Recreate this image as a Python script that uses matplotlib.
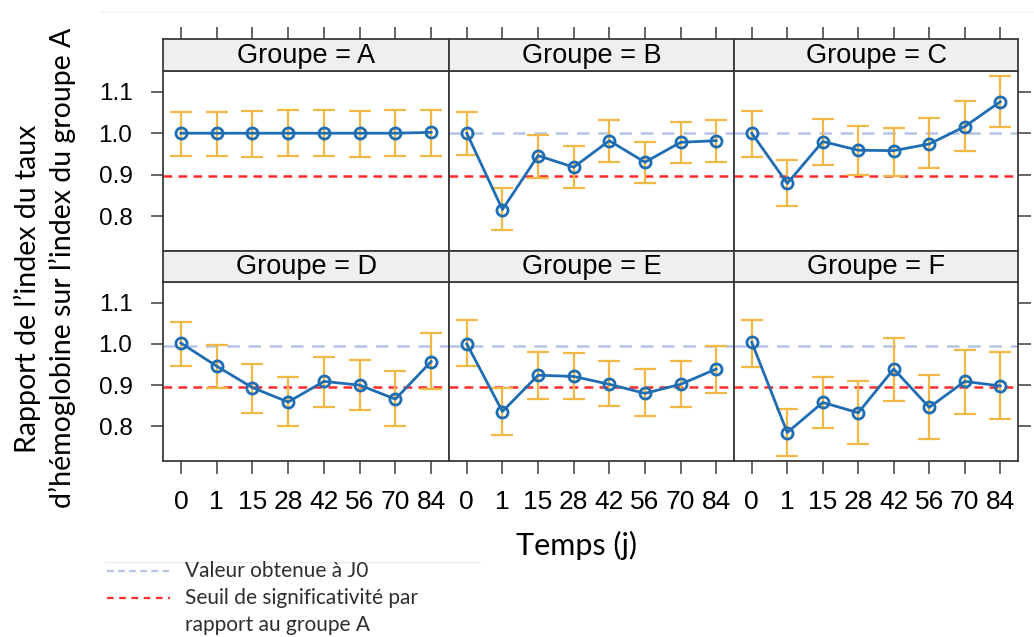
import matplotlib
matplotlib.use("Agg")
import matplotlib.pyplot as plt
from matplotlib.lines import Line2D

# ---------------- data ----------------
times = ["0", "1", "15", "28", "42", "56", "70", "84"]
groups = ["A", "B", "C", "D", "E", "F"]

mean_A = [1.000, 1.000, 1.000, 1.000, 1.000, 1.000, 1.000, 1.002]
mean_B = [1.000, 0.816, 0.946, 0.918, 0.982, 0.930, 0.978, 0.982]
mean_C = [1.000, 0.879, 0.980, 0.959, 0.958, 0.974, 1.016, 1.076]
mean_D = [1.002, 0.946, 0.894, 0.859, 0.909, 0.900, 0.866, 0.957]
mean_E = [1.000, 0.836, 0.924, 0.921, 0.902, 0.880, 0.902, 0.939]
mean_F = [1.004, 0.785, 0.858, 0.833, 0.939, 0.846, 0.909, 0.898]

upper_A = [1.050, 1.050, 1.053, 1.056, 1.056, 1.053, 1.056, 1.056]
upper_B = [1.050, 0.867, 0.996, 0.968, 1.032, 0.980, 1.028, 1.032]
upper_C = [1.054, 0.936, 1.034, 1.018, 1.012, 1.037, 1.078, 1.139]
upper_D = [1.054, 0.998, 0.951, 0.919, 0.969, 0.961, 0.935, 1.026]
upper_E = [1.057, 0.894, 0.981, 0.977, 0.959, 0.939, 0.959, 0.996]
upper_F = [1.059, 0.841, 0.920, 0.911, 1.014, 0.924, 0.984, 0.980]

lower_A = [0.944, 0.944, 0.942, 0.944, 0.944, 0.942, 0.944, 0.944]
lower_B = [0.948, 0.767, 0.892, 0.868, 0.930, 0.879, 0.927, 0.931]
lower_C = [0.942, 0.824, 0.924, 0.899, 0.897, 0.915, 0.958, 1.016]
lower_D = [0.947, 0.892, 0.833, 0.801, 0.848, 0.839, 0.801, 0.890]
lower_E = [0.946, 0.780, 0.866, 0.866, 0.850, 0.825, 0.846, 0.882]
lower_F = [0.943, 0.728, 0.797, 0.758, 0.862, 0.770, 0.831, 0.819]

j0_value = [None, 1.000, 1.000, 0.996, 0.996, 0.996]
seuil_value = 0.896

yticks = [0.8, 0.9, 1.0, 1.1]
ytick_labels = ["0.8", "0.9", "1.0", "1.1"]

means = [mean_A, mean_B, mean_C, mean_D, mean_E, mean_F]
uppers = [upper_A, upper_B, upper_C, upper_D, upper_E, upper_F]
lowers = [lower_A, lower_B, lower_C, lower_D, lower_E, lower_F]

# ---------------- style ----------------
W, H = 1034, 637
fig = plt.figure(figsize=(W / 100, H / 100), dpi=100)
fig.patch.set_facecolor("white")

BLUE = "#1f6db3"
ORANGE = "#f2b845"
RED = "#ff2a2a"
LBLUE = "#b3c6e6"
SPINE = "#3a3a3a"
STRIP = "#efefef"
TICKFONT = "Liberation Sans"
LABELFONT = "Lato"

col_x = [163, 449, 734, 1018]
rows = [(39, 71, 251), (251, 282, 461)]  # strip top, plot top, plot bottom


def fx(px):
    return px / W


def fy(py):
    return 1 - py / H


x = list(range(len(times)))
for gi, g in enumerate(groups):
    r, c = divmod(gi, 3)
    st, pt, pb = rows[r]
    x0, x1 = col_x[c], col_x[c + 1]
    ax = fig.add_axes([fx(x0), fy(pb), fx(x1 - x0), (pb - pt) / H])
    sax = fig.add_axes([fx(x0), fy(pt), fx(x1 - x0), (pt - st) / H])

    ax.set_xlim(-0.5, 7.5)
    ax.set_ylim(0.716, 1.15)
    # reference lines
    if j0_value[gi] is not None:
        ax.axhline(j0_value[gi], color=LBLUE, lw=1.8, ls=(0, (5, 3.5)), zorder=1)
    ax.axhline(seuil_value, color=RED, lw=1.8, ls=(0, (3.5, 2.5)), zorder=1.5)

    m = means[gi]
    lo = [mv - l for mv, l in zip(m, lowers[gi])]
    up = [u - mv for mv, u in zip(m, uppers[gi])]
    ax.errorbar(x, m, yerr=[lo, up], fmt="none", ecolor=ORANGE, elinewidth=1.6,
                capsize=8, capthick=1.6, zorder=2)
    ax.plot(x, m, color=BLUE, lw=2.0, marker="o", ms=8, mfc="none",
            mec=BLUE, mew=2.0, zorder=3)

    for s in ax.spines.values():
        s.set_color(SPINE)
        s.set_linewidth(1.3)

    # ticks
    ax.set_yticks(yticks)
    ax.set_xticks(x)
    ax.tick_params(axis="both", direction="out", length=9, width=1.1, color=SPINE)
    ax.tick_params(axis="x", top=False, bottom=(r == 1), labelbottom=(r == 1),
                   labelsize=19, pad=12)
    ax.tick_params(axis="y", left=(c == 0), labelleft=(c == 0),
                   right=(c == 2), labelright=False, labelsize=17.5, pad=13)
    if r == 1:
        ax.set_xticklabels(times, fontfamily=TICKFONT)
    else:
        ax.set_xticklabels([])
    ax.set_yticklabels(ytick_labels, fontfamily=TICKFONT)

    # strip
    sax.set_facecolor(STRIP)
    sax.set_xlim(-0.5, 7.5)
    sax.set_ylim(0, 1)
    sax.set_yticks([])
    for s in sax.spines.values():
        s.set_color(SPINE)
        s.set_linewidth(1.3)
    if r == 0:
        sax.set_xticks(x)
        sax.tick_params(axis="x", top=True, bottom=False, labeltop=False,
                        labelbottom=False, direction="out", length=9,
                        width=1.1, color=SPINE)
    else:
        sax.set_xticks([])
    sax.text(0.5, 0.47, f"Groupe = {g}", transform=sax.transAxes, ha="center",
             va="center", fontsize=19.5, fontfamily=TICKFONT, color="black")

# axis labels
fig.text(fx(577), fy(545), "Temps (j)", ha="center", va="center",
         fontsize=22, fontfamily=LABELFONT, color="black")
fig.text(fx(27), fy(289), "Rapport de l\u2019index du taux", rotation=90,
         ha="center", va="center", fontsize=20.5, fontfamily=LABELFONT)
fig.text(fx(62), fy(268), "d\u2019h\u00e9moglobine sur l\u2019index du groupe A",
         rotation=90, ha="center", va="center", fontsize=20.5, fontfamily=LABELFONT)

# faint separators
fig.add_artist(Line2D([fx(100), fx(1034)], [fy(12), fy(12)], color="#f1f1f1", lw=1))
fig.add_artist(Line2D([fx(105), fx(480)], [fy(562), fy(562)], color="#eeeeee", lw=1))

# legend
fig.add_artist(Line2D([fx(107), fx(170)], [fy(571), fy(571)], color=LBLUE,
                      lw=1.6, ls=(0, (3, 2))))
fig.add_artist(Line2D([fx(107), fx(170)], [fy(598), fy(598)], color=RED,
                      lw=1.6, ls=(0, (3, 2.5))))
fig.text(fx(185), fy(571), "Valeur obtenue \u00e0 J0", ha="left", va="center",
         fontsize=15, fontfamily=LABELFONT, color="#2e2e2e")
fig.text(fx(185), fy(598), "Seuil de significativit\u00e9 par", ha="left",
         va="center", fontsize=15, fontfamily=LABELFONT, color="#2e2e2e")
fig.text(fx(185), fy(625), "rapport au groupe A", ha="left", va="center",
         fontsize=15, fontfamily=LABELFONT, color="#2e2e2e")

fig.savefig("out.png", dpi=100, facecolor="white")
